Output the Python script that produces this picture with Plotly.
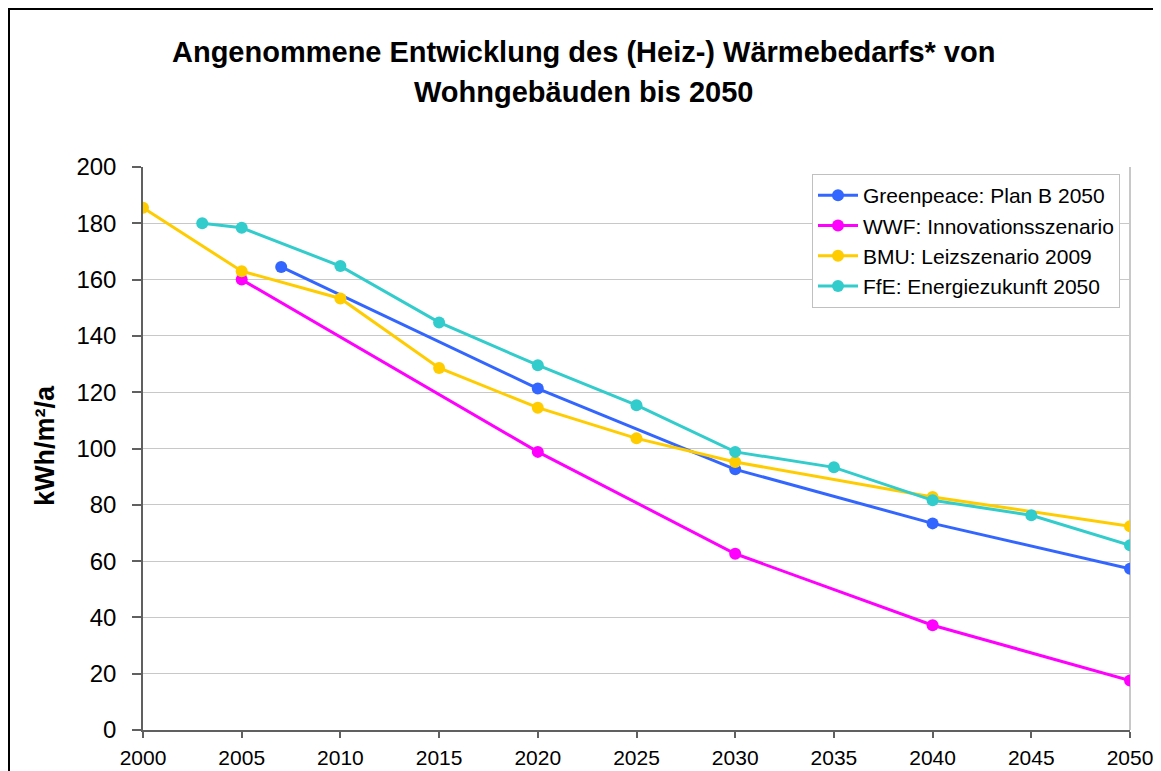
import plotly.graph_objects as go

# Data
gp_years = [2007, 2020, 2030, 2040, 2050]
gp_vals = [164.5, 121.3, 92.6, 73.4, 57.3]

wwf_years = [2005, 2020, 2030, 2040, 2050]
wwf_vals = [160.0, 98.8, 62.6, 37.2, 17.6]

bmu_years = [2000, 2005, 2010, 2015, 2020, 2025, 2030, 2040, 2050]
bmu_vals = [185.5, 163.0, 153.3, 128.6, 114.5, 103.6, 95.2, 82.8, 72.4]

ffe_years = [2003, 2005, 2010, 2015, 2020, 2025, 2030, 2035, 2040, 2045, 2050]
ffe_vals = [180.0, 178.4, 164.8, 144.8, 129.6, 115.4, 98.8, 93.3, 81.6, 76.3, 65.6]

series_names = ["Greenpeace: Plan B 2050", "WWF: Innovationsszenario",
                "BMU: Leizszenario 2009", "FfE: Energiezukunft 2050"]
colors = ["#3366FF", "#FF00FF", "#FFCC00", "#33CCCC"]

x_ticks = [2000, 2005, 2010, 2015, 2020, 2025, 2030, 2035, 2040, 2045, 2050]
y_ticks = [0, 20, 40, 60, 80, 100, 120, 140, 160, 180, 200]

title_lines = ["Angenommene Entwicklung des (Heiz-) Wärmebedarfs* von", "Wohngebäuden bis 2050"]
y_title = "kWh/m²/a"

FONT = "Liberation Sans, Arial, sans-serif"

fig = go.Figure()
for xs, ys, name, c in zip([gp_years, wwf_years, bmu_years, ffe_years],
                           [gp_vals, wwf_vals, bmu_vals, ffe_vals],
                           series_names, colors):
    fig.add_trace(go.Scatter(x=xs, y=ys, name=name, mode="lines+markers",
                             line=dict(color=c, width=3),
                             marker=dict(color=c, size=12)))

# page body has an 8px margin; figure coordinates = window coordinates - 8
OFF = 8
W, H = 1161 - OFF, 771 - OFF
L, T = 143 - OFF, 167 - OFF
R = W - (1130 - OFF)
B = H - (730 - OFF)
pw, ph = W - L - R, H - T - B

def px_x(p):  # window pixel -> paper x
    return (p - OFF - L) / pw

def px_y(p):  # window pixel -> paper y
    return (H - B - (p - OFF)) / ph

annotations = [
    dict(text="<b>%s</b>" % title_lines[0], x=px_x(583), y=px_y(52), xref="paper", yref="paper",
         xanchor="center", yanchor="middle", showarrow=False,
         font=dict(size=29, family=FONT, color="black")),
    dict(text="<b>%s</b>" % title_lines[1], x=px_x(583), y=px_y(92), xref="paper", yref="paper",
         xanchor="center", yanchor="middle", showarrow=False,
         font=dict(size=29, family=FONT, color="black")),
    dict(text="<b>%s</b>" % y_title, x=px_x(45), y=px_y(446), xref="paper", yref="paper",
         xanchor="center", yanchor="middle", showarrow=False, textangle=-90,
         font=dict(size=27, family=FONT, color="black")),
]

fig.update_layout(
    template="none",
    width=W, height=H,
    margin=dict(l=L, r=R, t=T, b=B, pad=0),
    paper_bgcolor="white", plot_bgcolor="white",
    font=dict(family=FONT, color="black"),
    annotations=annotations,
    xaxis=dict(range=[2000, 2050], tickvals=x_ticks, ticktext=[str(v) for v in x_ticks],
               automargin=False,
               showgrid=False, zeroline=False, showline=True, linecolor="#606060", linewidth=1.5,
               ticks="outside", ticklen=6, tickcolor="#606060", tickwidth=1.5,
               tickfont=dict(size=21, family=FONT, color="black"), ticklabelstandoff=2),
    yaxis=dict(range=[0, 200], tickvals=y_ticks, automargin=False,
               showgrid=True, gridcolor="#C8C8C8", gridwidth=1,
               zeroline=False, showline=True, linecolor="#606060", linewidth=1.5,
               ticks="outside", ticklen=9, tickcolor="#606060", tickwidth=1.5,
               tickfont=dict(size=24, family=FONT, color="black"), ticklabelstandoff=11),
    legend=dict(x=px_x(812), y=px_y(174), xanchor="left", yanchor="top",
                bgcolor="white", bordercolor="#C0C0C0", borderwidth=1,
                font=dict(size=21, family=FONT, color="black"),
                itemwidth=40, tracegroupgap=0),
    showlegend=True,
)

# right plot-area border
fig.add_shape(type="line", xref="paper", yref="paper", x0=1, x1=1, y0=0, y1=1,
              line=dict(color="#C8C8C8", width=2), layer="below")
# outer chart border
fig.add_shape(type="rect", xref="paper", yref="paper",
              x0=px_x(9), x1=px_x(1157), y0=px_y(800), y1=px_y(9),
              line=dict(color="black", width=2), fillcolor="rgba(0,0,0,0)")

fig.write_html("out.html")
